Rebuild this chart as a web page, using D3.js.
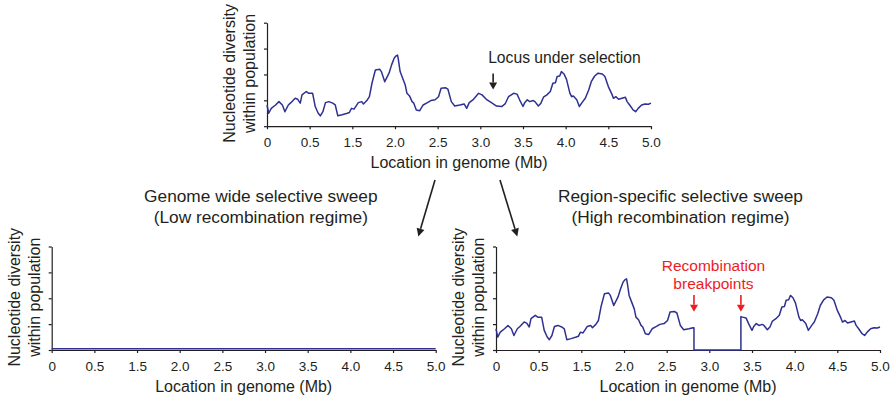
<!DOCTYPE html>
<html>
<head>
<meta charset="utf-8">
<script src="https://cdn.jsdelivr.net/npm/d3@7"></script>
<style>
  body { margin: 0; background: #fff; }
  svg { display: block; font-family: "Liberation Sans", Arial, sans-serif; }
</style>
</head>
<body>
<div id="chart"></div>
<script>
// Подписи оси X (в оригинале пропущено "1.0")
const tickValues = [0, 0.5, 1.5, 2.0, 2.5, 3.0, 3.5, 4.0, 4.5, 5.0];
const tickLabels = ["0", "0.5", "1.5", "2.0", "2.5", "3.0", "3.5", "4.0", "4.5", "5.0"];
const yTicks = [0, 1, 2, 3, 4];

// Позиция в геноме (Mb) и разнообразие
const positions = [
  0.00, 0.02, 0.05, 0.10, 0.14, 0.18, 0.21, 0.25, 0.28, 0.33, 0.36, 0.39, 0.41, 0.46, 0.49,
  0.57, 0.63, 0.70, 0.75, 0.81, 0.87, 0.95, 1.04, 1.10, 1.16, 1.26, 1.38, 1.43, 1.48,
  1.52, 1.57, 1.61, 1.63, 1.67, 1.70, 1.73, 1.77, 1.82, 1.84, 1.88, 1.93, 1.96, 1.99,
  2.01, 2.03, 2.04, 2.06, 2.09, 2.12, 2.14, 2.17, 2.20, 2.22, 2.25, 2.29, 2.33, 2.38,
  2.42, 2.47, 2.51, 2.54, 2.59, 2.62, 2.66, 2.70, 2.76, 2.81, 2.84, 2.87, 2.92, 2.98,
  3.02, 3.07, 3.13, 3.19, 3.25, 3.29, 3.33, 3.39, 3.43, 3.46, 3.50, 3.52, 3.55, 3.58,
  3.62, 3.64, 3.68, 3.71, 3.74, 3.78, 3.82, 3.85, 3.88, 3.90, 3.93, 3.95, 3.98, 4.01,
  4.05, 4.07, 4.09, 4.13, 4.16, 4.20, 4.23, 4.27, 4.30, 4.34, 4.38, 4.43, 4.46, 4.50,
  4.54, 4.56, 4.59, 4.62, 4.66, 4.70, 4.72, 4.75, 4.79, 4.82, 4.85, 4.89, 4.93, 4.97, 5.00
];
const diversity = [
  0.82, 0.50, 0.69, 0.82, 0.95, 0.82, 0.56, 0.82, 0.91, 1.08, 1.04, 0.89, 1.21, 1.34, 1.27,
  1.27, 0.76, 0.50, 0.40, 0.56, 0.91, 0.95, 0.89, 0.82, 0.40, 0.44, 0.50, 0.53, 0.69,
  0.66, 0.91, 0.95, 0.86, 0.99, 1.14, 1.66, 2.17, 2.20, 2.11, 1.72, 2.05, 2.37, 2.63,
  2.71, 2.75, 2.56, 2.11, 1.85, 1.59, 1.27, 1.17, 0.95, 0.89, 0.63, 0.60, 0.82, 0.91,
  0.99, 1.02, 1.14, 1.47, 1.49, 1.43, 0.95, 0.78, 0.82, 0.86, 0.69, 0.91, 1.04, 1.27,
  1.21, 1.04, 0.91, 0.78, 0.76, 0.86, 1.14, 1.27, 1.24, 1.02, 0.76, 0.91, 1.02, 0.95,
  0.99, 0.95, 0.78, 0.89, 1.12, 1.21, 1.34, 1.66, 1.68, 1.92, 1.94, 2.11, 2.02, 1.81,
  1.27, 1.14, 1.17, 1.02, 0.76, 0.95, 1.08, 1.40, 1.72, 1.94, 2.05, 2.02, 1.92, 1.53,
  1.25, 1.08, 1.14, 1.04, 1.08, 1.12, 0.95, 0.82, 0.63, 0.56, 0.69, 0.82, 0.86, 0.85, 0.89
];

// Границы рекомбинации и значения на краях провала
const breakpoints = [2.82, 3.37];
const breakpointEdges = [0.86, 1.29];

// Полный свип: почти нулевое разнообразие
const lowRecombPositions = [0, 5.0];
const lowRecombDiversity = [0.05, 0.05];

const locus = 3.15;

// Цвета
const textColor = '#231f20';
const lineColor = '#2e3192';
const redColor = '#ed1c24';

const width = 896;
const height = 396;
const plotW = 384;
const plotH = 103.5;

const svg = d3.select('#chart').append('svg')
  .attr('width', width)
  .attr('height', height);

// Точки для линий
const basePoints = positions.map((p, i) => ({x: p, y: diversity[i]}));

const sweptPoints = basePoints.filter(d => d.x < breakpoints[0])
  .concat([
    {x: breakpoints[0], y: breakpointEdges[0]},
    {x: breakpoints[0], y: 0},
    {x: breakpoints[1], y: 0},
    {x: breakpoints[1], y: breakpointEdges[1]}
  ])
  .concat(basePoints.filter(d => d.x > breakpoints[1]));

const flatPoints = lowRecombPositions.map((p, i) => ({x: p, y: lowRecombDiversity[i]}));

// Функция рисования одной панели
function drawPanel(left, top, points) {
  const g = svg.append('g').attr('transform', `translate(${left},${top})`);

  const x = d3.scaleLinear()
    .domain(tickValues)
    .range(tickValues.map((d, i) => i * plotW / (tickValues.length - 1)));
  const y = d3.scaleLinear().domain([0, 4]).range([plotH, 0]);

  const xAxis = g.append('g')
    .attr('transform', `translate(0,${plotH})`)
    .call(d3.axisBottom(x)
      .tickValues(tickValues)
      .tickFormat((d, i) => tickLabels[i])
      .tickSizeInner(3)
      .tickSizeOuter(0)
      .tickPadding(8));

  g.append('g')
    .call(d3.axisLeft(y)
      .tickValues(yTicks)
      .tickFormat('')
      .tickSizeInner(3)
      .tickSizeOuter(0));

  g.selectAll('.domain, .tick line')
    .attr('stroke', textColor)
    .attr('stroke-width', 1.2);

  xAxis.selectAll('text')
    .attr('fill', textColor)
    .style('font-size', '13.5px')
    .style('font-family', '"Liberation Sans", Arial, sans-serif');

  // Подпись оси X
  g.append('text')
    .attr('x', plotW / 2)
    .attr('y', plotH + 41.5)
    .attr('text-anchor', 'middle')
    .attr('fill', textColor)
    .style('font-size', '16px')
    .text('Location in genome (Mb)');

  // Подпись оси Y в две строки
  const yLabel = g.append('text')
    .attr('transform', `translate(0,${plotH / 2 - 1}) rotate(-90)`)
    .attr('text-anchor', 'middle')
    .attr('fill', textColor)
    .style('font-size', '16px');
  yLabel.append('tspan').attr('x', 0).attr('y', -32).text('Nucleotide diversity');
  yLabel.append('tspan').attr('x', 0).attr('y', -12).text('within population');

  const line = d3.line()
    .x(d => x(d.x))
    .y(d => y(d.y));

  g.append('path')
    .datum(points)
    .attr('d', line)
    .attr('fill', 'none')
    .attr('stroke', lineColor)
    .attr('stroke-width', 1.5)
    .attr('stroke-linejoin', 'round');

  return {g, x, y};
}

// Стрелка с заполненным наконечником
function arrow(x1, y1, x2, y2, color, headLen, headW) {
  const a = Math.atan2(y2 - y1, x2 - x1);
  const bx = x2 - headLen * Math.cos(a);
  const by = y2 - headLen * Math.sin(a);
  svg.append('line')
    .attr('x1', x1).attr('y1', y1)
    .attr('x2', bx).attr('y2', by)
    .attr('stroke', color)
    .attr('stroke-width', 1.6);
  const px = -Math.sin(a) * headW / 2;
  const py = Math.cos(a) * headW / 2;
  svg.append('path')
    .attr('d', `M${x2},${y2}L${bx + px},${by + py}L${bx - px},${by - py}Z`)
    .attr('fill', color);
}

const topPanel = drawPanel(267, 22.7, basePoints);
const leftPanel = drawPanel(51.7, 246.5, flatPoints);
const rightPanel = drawPanel(496, 246.5, sweptPoints);

// Локус под отбором
const locusX = 267 + topPanel.x(locus);
svg.append('text')
  .attr('x', locusX - 5)
  .attr('y', 63.3)
  .attr('fill', textColor)
  .style('font-size', '15.7px')
  .text('Locus under selection');
arrow(locusX, 73.5, locusX, 89.5, textColor, 7, 8);

// Заголовки нижних панелей
function title(cx, lines, color, size, y0, dy) {
  const t = svg.append('text')
    .attr('text-anchor', 'middle')
    .attr('fill', color)
    .style('font-size', size);
  lines.forEach((s, i) => {
    t.append('tspan').attr('x', cx).attr('y', y0 + i * dy).text(s);
  });
}

title(260.8, ['Genome wide selective sweep', '(Low recombination regime)'], textColor, '17.3px', 202, 20.7);
title(680.5, ['Region-specific selective sweep', '(High recombination regime)'], textColor, '17.3px', 202, 20.7);

// Диагональные стрелки от верхней панели
arrow(435, 180, 418.3, 236.5, textColor, 8, 8);
arrow(500, 180, 517.3, 236.5, textColor, 8, 8);

// Точки разрыва рекомбинации
const bpX = breakpoints.map(b => 496 + rightPanel.x(b));
title(d3.mean(bpX) - 4, ['Recombination', 'breakpoints'], redColor, '15.5px', 270.7, 18.6);
bpX.forEach(bx => arrow(bx, 295, bx, 311.7, redColor, 7, 8));
</script>
</body>
</html>
